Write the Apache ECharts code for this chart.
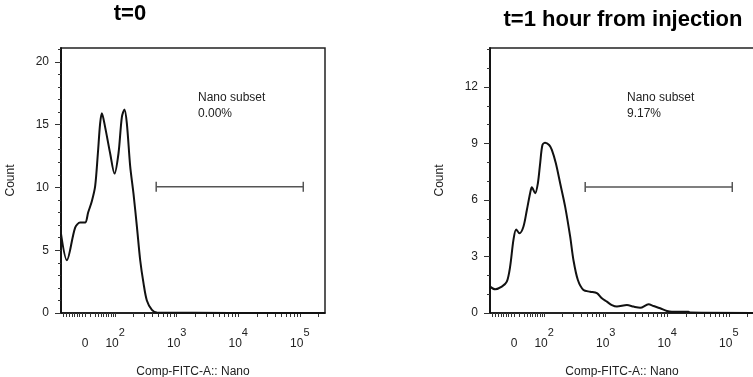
<!DOCTYPE html>
<html>
<head>
<meta charset="utf-8">
<script src="https://cdn.jsdelivr.net/npm/echarts@6/dist/echarts.min.js"></script>
<style>
  html, body { margin: 0; padding: 0; background: #fff; }
  #chart { width: 753px; height: 377px; }
</style>
</head>
<body>
<div id="chart"></div>
<script>
// x values are in display decades (2 = 10^2, 3 = 10^3 ...), zero of the biex scale sits at 1.51
const xZero = 1.51;
const xMin = 1.12;
const xMax = 5.41;
const xLabelValues = [xZero, 2, 3, 4, 5];
const linearTicks = [1.16, 1.21, 1.26, 1.30, 1.34, 1.38, 1.42, 1.46, 1.51,
                     1.60, 1.67, 1.72, 1.77, 1.81, 1.85, 1.89, 1.93, 1.97];

// t=0 histogram
const leftX = [1.12, 1.215, 1.35, 1.431, 1.512, 1.561, 1.621, 1.675, 1.719, 1.756, 1.784,
               1.837, 1.919, 1.989, 2.054, 2.109, 2.151, 2.19, 2.244, 2.298, 2.353, 2.407,
               2.46, 2.515, 2.597, 2.678, 5.41];
const leftCount = [6.3, 4.2, 6.8, 7.2, 7.2, 8.0, 8.9, 10.1, 12.7, 15.1, 15.9,
                   14.8, 12.7, 11.1, 12.7, 15.6, 16.2, 15.1, 11.7, 9.5, 6.9, 4.2,
                   2.4, 1.0, 0.25, 0.03, 0];
const leftYTicks = [0, 5, 10, 15, 20];
const leftYMax = 21.1;
const leftGate = [2.667, 5.057, 10.05];
const leftPct = '0.00%';

// t=1 hour histogram
const rightX = [1.12, 1.203, 1.312, 1.393, 1.447, 1.501, 1.545, 1.598, 1.663, 1.719, 1.772,
                1.8, 1.854, 1.898, 1.935, 1.972, 2.016, 2.081, 2.125, 2.19, 2.26, 2.341,
                2.423, 2.476, 2.548, 2.639, 2.748, 2.857, 2.938, 3.02, 3.101, 3.182, 3.345,
                3.452, 3.561, 3.696, 3.777, 3.886, 3.995, 4.076, 4.346, 4.374, 5.41];
const rightCount = [1.4, 1.26, 1.4, 1.66, 2.46, 3.88, 4.44, 4.23, 4.58, 5.47, 6.36,
                    6.67, 6.36, 6.89, 7.95, 8.92, 9.04, 8.92, 8.66, 7.95, 6.89, 5.65,
                    4.05, 2.81, 1.75, 1.22, 1.13, 1.05, 0.78, 0.6, 0.42, 0.34, 0.42,
                    0.34, 0.28, 0.46, 0.37, 0.25, 0.11, 0.07, 0.07, 0.02, 0];
const rightYTicks = [0, 3, 6, 9, 12];
const rightYMax = 14.07;
const rightGate = [2.667, 5.057, 6.69];
const rightPct = '9.17%';

const font = 'Arial, "Liberation Sans", sans-serif';
const ink = '#111';

const xTicks = linearTicks.slice();
for (let d = 2; d <= 5; d++) {
  xTicks.push(d);
  for (let k = 2; k <= 9; k++) {
    const v = d + Math.log10(k);
    if (v < xMax) xTicks.push(v);
  }
}

function zip(xs, ys) { return xs.map((x, i) => [x, ys[i]]); }
function intsTo(max) { const a = []; for (let i = 0; i <= max; i++) a.push(i); return a; }

function makeXAxis(gi) {
  return {
    type: 'value', gridIndex: gi, min: xMin, max: xMax,
    name: 'Comp-FITC-A:: Nano', nameLocation: 'middle', nameGap: 53,
    nameTextStyle: { fontFamily: font, fontSize: 12, color: '#222' },
    axisLine: { lineStyle: { color: ink, width: 1.5 } },
    axisTick: { customValues: xTicks, length: 4, lineStyle: { color: '#333', width: 1 } },
    splitLine: { show: false },
    axisLabel: {
      customValues: xLabelValues, margin: 14,
      formatter: v => v < 1.9 ? '{a|0}' : '{a|10}{s|' + Math.round(v) + '}',
      rich: {
        a: { fontFamily: font, fontSize: 12, color: '#222', lineHeight: 23, verticalAlign: 'bottom' },
        s: { fontFamily: font, fontSize: 11, color: '#222', lineHeight: 20, verticalAlign: 'top' }
      }
    }
  };
}

function makeYAxes(gi, ticks, max) {
  return [{
    type: 'value', gridIndex: gi, min: 0, max: max, position: 'left',
    name: 'Count', nameLocation: 'middle', nameGap: 44, nameRotate: 90,
    nameTextStyle: { fontFamily: font, fontSize: 12, color: '#222' },
    axisLine: { show: true, lineStyle: { color: ink, width: 1.5 } },
    axisTick: { customValues: ticks, length: 6, lineStyle: { color: '#333' } },
    axisLabel: { customValues: ticks, margin: 12, fontFamily: font, fontSize: 12, color: '#222' },
    splitLine: { show: false }
  }, {
    type: 'value', gridIndex: gi, min: 0, max: max, position: 'left', offset: 0,
    axisLine: { show: true, lineStyle: { color: ink, width: 1.5 } },
    axisTick: { customValues: intsTo(Math.floor(max)), length: 3, lineStyle: { color: '#333' } },
    axisLabel: { show: false },
    splitLine: { show: false }
  }];
}

function histSeries(gi, xs, ys) {
  return {
    type: 'line', xAxisIndex: gi, yAxisIndex: gi * 2, data: zip(xs, ys),
    smooth: 0.3, symbol: 'none', lineStyle: { color: ink, width: 2 }
  };
}

function gateSeries(gi, gate) {
  return {
    type: 'line', xAxisIndex: gi, yAxisIndex: gi * 2,
    data: [[gate[0], gate[2]], [gate[1], gate[2]]],
    symbol: 'rect', symbolSize: [1.5, 10], itemStyle: { color: '#555' },
    lineStyle: { color: '#555', width: 1.5 }
  };
}

const chart = echarts.init(document.getElementById('chart'));
chart.setOption({
  animation: false,
  backgroundColor: '#fff',
  grid: [
    { left: 61, top: 48, width: 264, height: 265, outerBoundsMode: 'none', containLabel: false,
      show: true, borderColor: '#222', borderWidth: 1.5 },
    { left: 490, top: 48, width: 264, height: 265, outerBoundsMode: 'none', containLabel: false,
      show: true, borderColor: '#222', borderWidth: 1.5 }
  ],
  xAxis: [makeXAxis(0), makeXAxis(1)],
  yAxis: makeYAxes(0, leftYTicks, leftYMax).concat(makeYAxes(1, rightYTicks, rightYMax)),
  graphic: [
    { type: 'text', x: 130, y: 14, style: { text: 't=0', font: 'bold 22px ' + font, fill: '#000', align: 'center', verticalAlign: 'middle' } },
    { type: 'text', x: 623, y: 20, style: { text: 't=1 hour from injection', font: 'bold 22px ' + font, fill: '#000', align: 'center', verticalAlign: 'middle' } },
    { type: 'text', x: 198, y: 90, style: { text: 'Nano subset\n' + leftPct, font: '12px ' + font, fill: '#222', lineHeight: 16 } },
    { type: 'text', x: 627, y: 90, style: { text: 'Nano subset\n' + rightPct, font: '12px ' + font, fill: '#222', lineHeight: 16 } }
  ],
  series: [
    histSeries(0, leftX, leftCount),
    gateSeries(0, leftGate),
    histSeries(1, rightX, rightCount),
    gateSeries(1, rightGate)
  ]
});
</script>
</body>
</html>
